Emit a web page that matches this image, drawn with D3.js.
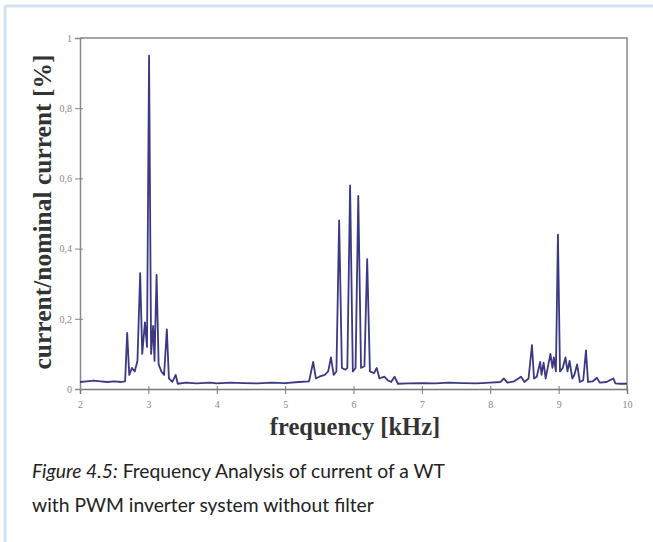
<!DOCTYPE html>
<html>
<head>
<meta charset="utf-8">
<script src="https://cdn.jsdelivr.net/npm/d3@7"></script>
<style>
  body { margin: 0; background: #fff; }
  svg { display: block; }
</style>
</head>
<body>
<div id="chart"></div>
<script>
// spectrum: frequency in kHz, current as fraction of nominal
const freq = [
  2.00, 2.10, 2.20, 2.30, 2.40, 2.50, 2.60, 2.66, 2.69, 2.72, 2.76, 2.80, 2.84, 2.88, 2.91,
  2.95, 2.98, 3.01, 3.04, 3.07, 3.09, 3.12, 3.15, 3.19, 3.23, 3.27, 3.30, 3.35, 3.40, 3.43,
  3.55, 3.70, 3.90, 4.00, 4.20, 4.40, 4.60, 4.80, 5.00, 5.20, 5.35, 5.41, 5.45, 5.50, 5.58,
  5.63, 5.67, 5.71, 5.75, 5.79, 5.83, 5.88, 5.91, 5.95, 5.99, 6.03, 6.07, 6.11, 6.16, 6.20,
  6.24, 6.30, 6.34, 6.38, 6.45, 6.50, 6.55, 6.60, 6.65, 6.80, 7.00, 7.20, 7.40, 7.60, 7.80,
  8.00, 8.15, 8.20, 8.25, 8.35, 8.45, 8.50, 8.56, 8.61, 8.64, 8.68, 8.73, 8.75, 8.78, 8.81,
  8.85, 8.88, 8.91, 8.93, 8.96, 8.99, 9.02, 9.06, 9.10, 9.13, 9.16, 9.20, 9.23, 9.27, 9.31,
  9.36, 9.40, 9.43, 9.50, 9.56, 9.60, 9.70, 9.80, 9.83, 9.90, 10.00
];
const current = [
  0.020, 0.022, 0.024, 0.022, 0.020, 0.022, 0.020, 0.022, 0.160, 0.040, 0.060, 0.050, 0.080, 0.330, 0.100,
  0.190, 0.120, 0.950, 0.100, 0.180, 0.080, 0.325, 0.070, 0.050, 0.040, 0.170, 0.030, 0.020, 0.040, 0.015,
  0.018, 0.016, 0.018, 0.016, 0.018, 0.017, 0.016, 0.018, 0.017, 0.020, 0.022, 0.077, 0.030, 0.035, 0.040,
  0.050, 0.090, 0.040, 0.050, 0.480, 0.060, 0.055, 0.060, 0.580, 0.050, 0.060, 0.550, 0.060, 0.065, 0.370,
  0.050, 0.045, 0.060, 0.030, 0.035, 0.025, 0.020, 0.035, 0.015, 0.016, 0.017, 0.016, 0.018, 0.017, 0.016,
  0.018, 0.020, 0.030, 0.018, 0.022, 0.035, 0.020, 0.030, 0.125, 0.030, 0.035, 0.077, 0.040, 0.075, 0.030,
  0.070, 0.100, 0.060, 0.090, 0.050, 0.440, 0.050, 0.060, 0.090, 0.050, 0.080, 0.030, 0.040, 0.070, 0.020,
  0.025, 0.110, 0.020, 0.022, 0.032, 0.018, 0.020, 0.030, 0.016, 0.015, 0.015
];
const xTicks = [2, 3, 4, 5, 6, 7, 8, 9, 10];
const yTicks = [0, 0.2, 0.4, 0.6, 0.8, 1];
const yTickLabels = ['0', '0,2', '0,4', '0,6', '0,8', '1'];
const captionLines = [
  ['Figure 4.5:', ' Frequency Analysis of current of a WT'],
  ['', 'with PWM inverter system without filter']
];

const width = 653, height = 542;
const plot = { left: 80, right: 627, top: 38, bottom: 389 };

const svg = d3.select('#chart').append('svg')
  .attr('width', width)
  .attr('height', height);

// light blue page frame (top and left edges)
svg.append('line')
  .attr('x1', 5).attr('x2', width).attr('y1', 6).attr('y2', 6)
  .attr('stroke', '#d3e2ef').attr('stroke-width', 3);
svg.append('line')
  .attr('x1', 5).attr('x2', 5).attr('y1', 6).attr('y2', height)
  .attr('stroke', '#d3e2ef').attr('stroke-width', 3);

const x = d3.scaleLinear().domain([2, 10]).range([plot.left, plot.right]);
const y = d3.scaleLinear().domain([0, 1]).range([plot.bottom, plot.top]);

// plot box (top and right)
svg.append('path')
  .attr('d', `M${plot.left},${plot.top}H${plot.right}V${plot.bottom}`)
  .attr('fill', 'none')
  .attr('stroke', '#8a8a8a')
  .attr('stroke-width', 1.5);

// x axis
const xAxis = svg.append('g')
  .attr('transform', `translate(0,${plot.bottom})`)
  .call(d3.axisBottom(x).tickValues(xTicks).tickSize(5).tickFormat(d3.format('d')));
xAxis.select('.domain').attr('stroke', '#777').attr('stroke-width', 1.5);
xAxis.selectAll('.tick line').attr('stroke', '#777').attr('y1', -3);
xAxis.selectAll('.tick text')
  .attr('fill', '#888')
  .attr('font-family', '"Liberation Serif", serif')
  .attr('font-size', 10)
  .attr('dy', '1.1em');

// y axis
const yAxis = svg.append('g')
  .attr('transform', `translate(${plot.left},0)`)
  .call(d3.axisLeft(y).tickValues(yTicks).tickSize(5)
    .tickFormat((d, i) => yTickLabels[i]));
yAxis.select('.domain').attr('stroke', '#888').attr('stroke-width', 1.5);
yAxis.selectAll('.tick line').attr('stroke', '#888').attr('x1', 3);
yAxis.selectAll('.tick text')
  .attr('fill', '#888')
  .attr('font-family', '"Liberation Serif", serif')
  .attr('font-size', 10);

// spectrum line
const line = d3.line()
  .x((d, i) => x(freq[i]))
  .y(d => y(d));

svg.append('path')
  .datum(current)
  .attr('fill', 'none')
  .attr('stroke', '#3b3884')
  .attr('stroke-width', 1.8)
  .attr('stroke-linejoin', 'round')
  .attr('d', line);

// axis titles
svg.append('text')
  .attr('x', 355)
  .attr('y', 435)
  .attr('text-anchor', 'middle')
  .attr('font-family', '"Liberation Serif", serif')
  .attr('font-weight', 'bold')
  .attr('font-size', 24.5)
  .attr('fill', '#333')
  .text('frequency [kHz]');

svg.append('text')
  .attr('transform', 'rotate(-90)')
  .attr('x', -212)
  .attr('y', 51)
  .attr('text-anchor', 'middle')
  .attr('font-family', '"Liberation Serif", serif')
  .attr('font-weight', 'bold')
  .attr('font-size', 25.5)
  .attr('fill', '#333')
  .text('current/nominal current [%]');

// caption, one text per line
captionLines.forEach((parts, i) => {
  const t = svg.append('text')
    .attr('x', 32)
    .attr('y', 478 + i * 34)
    .attr('font-family', 'Lato, "Noto Sans", sans-serif')
    .attr('font-size', 19.3)
    .attr('fill', '#222');
  if (parts[0]) t.append('tspan').attr('font-style', 'italic').text(parts[0]);
  t.append('tspan').text(parts[1]);
});
</script>
</body>
</html>
